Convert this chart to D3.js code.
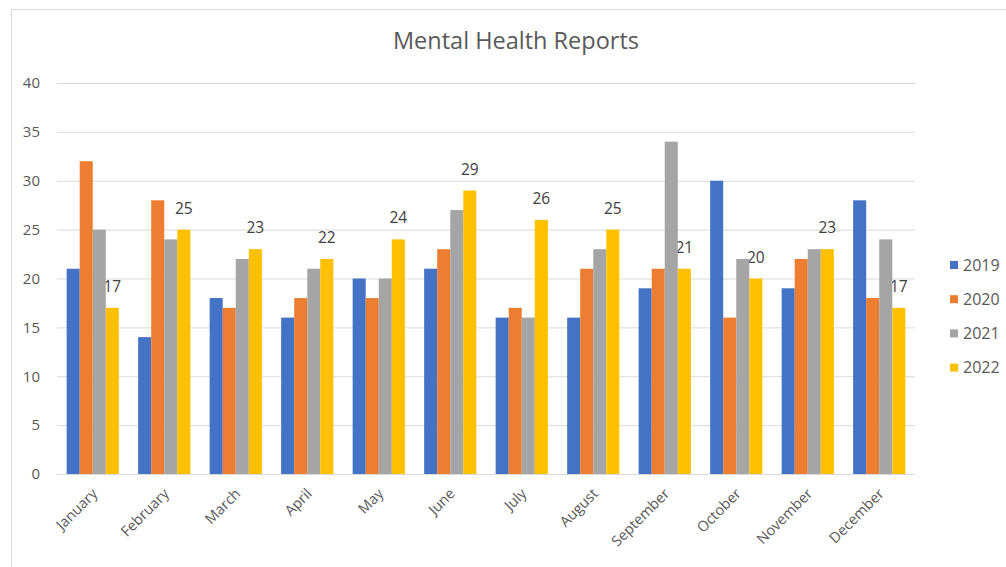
<!DOCTYPE html>
<html>
<head>
<meta charset="utf-8">
<script src="https://cdn.jsdelivr.net/npm/d3@7"></script>
<style>
  body { margin: 0; background: #fff; }
  text { font-family: "Open Sans", "Noto Sans", sans-serif; }
</style>
</head>
<body>
<div id="chart"></div>
<script>
// Monthly report counts per year
const months = ["January", "February", "March", "April", "May", "June",
    "July", "August", "September", "October", "November", "December"];
const years = ["2019", "2020", "2021", "2022"];
const v2019 = [21, 14, 18, 16, 20, 21, 16, 16, 19, 30, 19, 28];
const v2020 = [32, 28, 17, 18, 18, 23, 17, 21, 21, 16, 22, 18];
const v2021 = [25, 24, 22, 21, 20, 27, 16, 23, 34, 22, 23, 24];
const v2022 = [17, 25, 23, 22, 24, 29, 26, 25, 21, 20, 23, 17];
const yTicks = [0, 5, 10, 15, 20, 25, 30, 35, 40];
const colors = ["#4472C4", "#ED7D31", "#A5A5A5", "#FFC000"];

const series = [v2019, v2020, v2021, v2022];
const rows = months.map((m, i) => ({ month: m, values: series.map(s => s[i]) }));

const width = 1006, height = 567;
const margin = { top: 83, left: 57, right: 91, bottom: 93 };

const svg = d3.select("#chart")
    .append("svg")
    .attr("width", width)
    .attr("height", height);

// faint chart border
svg.append("rect")
    .attr("x", 11.5).attr("y", 9.5)
    .attr("width", 1010).attr("height", 570)
    .attr("fill", "none")
    .attr("stroke", "#d9d9d9");

const x = d3.scaleBand()
    .domain(months)
    .range([margin.left, width - margin.right])
    .paddingInner(0.27)
    .paddingOuter(0.135);

const xs = d3.scaleBand()
    .domain(years)
    .range([0, x.bandwidth()]);

const y = d3.scaleLinear()
    .domain([0, 40])
    .range([height - margin.bottom, margin.top]);

// gridlines + y labels
const yAxis = svg.append("g")
    .attr("transform", `translate(${margin.left},0)`)
    .call(d3.axisLeft(y).tickValues(yTicks).tickSize(-(width - margin.left - margin.right)).tickPadding(17));
yAxis.select(".domain").remove();
yAxis.selectAll(".tick line").attr("stroke", "#d9d9d9");
yAxis.selectAll(".tick text")
    .attr("fill", "#595959")
    .style("font-size", "15px");

// x labels
const xAxis = svg.append("g")
    .attr("transform", `translate(0,${height - margin.bottom})`)
    .call(d3.axisBottom(x).tickSize(0));
xAxis.select(".domain").remove();
xAxis.selectAll(".tick text")
    .attr("fill", "#595959")
    .style("font-size", "14.5px")
    .attr("text-anchor", "end")
    .attr("x", 0)
    .attr("y", 0)
    .attr("dy", "0.35em")
    .attr("transform", "translate(2,17) rotate(-45)");

// data labels for 2022 (drawn under the bars, like the original)
svg.append("g")
    .selectAll("text")
    .data(rows)
    .enter()
    .append("text")
    .attr("x", d => x(d.month) + xs("2022") + xs.bandwidth() / 2)
    .attr("y", d => y(d.values[3]) - 16)
    .attr("text-anchor", "middle")
    .attr("fill", "#404040")
    .style("font-size", "15.5px")
    .text(d => d.values[3]);

// bars
const groups = svg.append("g")
    .selectAll("g")
    .data(rows)
    .enter()
    .append("g")
    .attr("transform", d => `translate(${x(d.month)},0)`);

groups.selectAll("rect")
    .data(d => d.values.map((v, k) => ({ year: years[k], value: v, k: k })))
    .enter()
    .append("rect")
    .attr("x", d => xs(d.year))
    .attr("y", d => y(d.value))
    .attr("width", xs.bandwidth())
    .attr("height", d => y(0) - y(d.value))
    .attr("fill", d => colors[d.k]);

// title
svg.append("text")
    .attr("x", 516)
    .attr("y", 49)
    .attr("text-anchor", "middle")
    .attr("fill", "#595959")
    .style("font-size", "23.5px")
    .text("Mental Health Reports");

// legend
const legend = svg.append("g")
    .selectAll("g")
    .data(years)
    .enter()
    .append("g")
    .attr("transform", (d, i) => `translate(950,${265 + i * 34.2})`);

legend.append("rect")
    .attr("x", 0).attr("y", -4)
    .attr("width", 8).attr("height", 8)
    .attr("fill", (d, i) => colors[i]);

legend.append("text")
    .attr("x", 13)
    .attr("y", 0)
    .attr("dy", "0.35em")
    .attr("fill", "#595959")
    .style("font-size", "16px")
    .text(d => d);
</script>
</body>
</html>
